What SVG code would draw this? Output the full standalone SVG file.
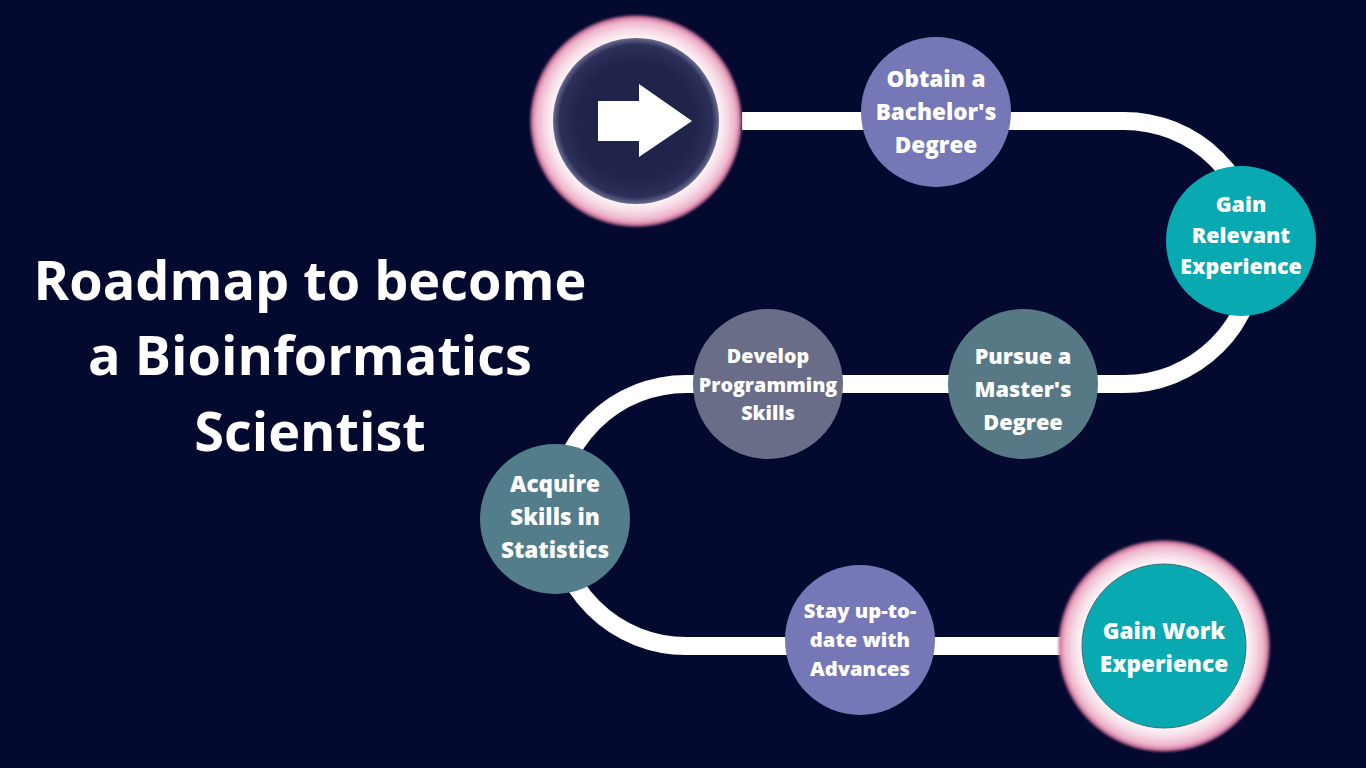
<svg xmlns="http://www.w3.org/2000/svg" width="1366" height="768" viewBox="0 0 1366 768">
<defs>
<radialGradient id="ring" cx="0.5" cy="0.5" r="0.5">
<stop offset="0.74" stop-color="#ffffff"/>
<stop offset="0.86" stop-color="#f7dbe6"/>
<stop offset="0.94" stop-color="#eeb3ca"/>
<stop offset="0.975" stop-color="#d57fa5"/>
<stop offset="1" stop-color="#b9628c" stop-opacity="0.6"/>
</radialGradient>
<radialGradient id="dark" cx="0.5" cy="0.5" r="0.5">
<stop offset="0.7" stop-color="#20234a"/>
<stop offset="0.92" stop-color="#2c2f58"/>
<stop offset="1" stop-color="#6a6c90"/>
</radialGradient>
<filter id="soft" x="-10%" y="-10%" width="120%" height="120%"><feGaussianBlur stdDeviation="1.2"/></filter>
<style>
.t{font-family:"Open Sans","Liberation Sans",sans-serif;font-weight:700;fill:#ffffff;text-anchor:middle}
.n{font-weight:800}
.title{font-size:54px}
</style>
</defs>
<rect width="1366" height="768" fill="#040a2f"/>
<g id="connectors">
<path d="M 742 121 H 1124 A 131.5 131.5 0 0 1 1124 384 H 686 A 131 131 0 0 0 686 646 H 1064" fill="none" stroke="#ffffff" stroke-width="18"/>
</g>
<g id="title">
<text class="t title" x="310" y="300">Roadmap to become</text>
<text class="t title" x="310" y="375">a Bioinformatics</text>
<text class="t title" x="310" y="451">Scientist</text>
</g>
<g id="start">
<circle cx="636" cy="121" r="106" fill="url(#ring)" filter="url(#soft)"/>
<circle cx="636" cy="121" r="83" fill="url(#dark)"/>
<polygon points="598,101 639,101 639,84 692,121 639,157 639,141 598,141" fill="#ffffff"/>
</g>
<g id="n1">
<circle cx="936" cy="112" r="75" fill="#7677b7"/>
<text class="t n" font-size="22.5" x="936" y="87">Obtain a</text>
<text class="t n" font-size="22.5" x="936" y="120">Bachelor's</text>
<text class="t n" font-size="22.5" x="936" y="153">Degree</text>
</g>
<g id="n2">
<circle cx="1241" cy="241" r="75" fill="#09a9b2"/>
<text class="t n" font-size="21.4" x="1241" y="212">Gain</text>
<text class="t n" font-size="21.4" x="1241" y="243">Relevant</text>
<text class="t n" font-size="21.4" x="1241" y="274">Experience</text>
</g>
<g id="n3">
<circle cx="1023" cy="384" r="75" fill="#567985"/>
<text class="t n" font-size="21.7" x="1023" y="364">Pursue a</text>
<text class="t n" font-size="21.7" x="1023" y="397">Master's</text>
<text class="t n" font-size="21.7" x="1023" y="430">Degree</text>
</g>
<g id="n4">
<circle cx="768" cy="384" r="75" fill="#6a6d87"/>
<text class="t n" font-size="19.7" x="768" y="363">Develop</text>
<text class="t n" font-size="19.7" x="768" y="392">Programming</text>
<text class="t n" font-size="19.7" x="768" y="420">Skills</text>
</g>
<g id="n5">
<circle cx="555" cy="519" r="75" fill="#537d8b"/>
<text class="t n" font-size="22.5" x="555" y="492">Acquire</text>
<text class="t n" font-size="22.5" x="555" y="525">Skills in</text>
<text class="t n" font-size="22.5" x="555" y="558">Statistics</text>
</g>
<g id="n6">
<circle cx="860" cy="640" r="75" fill="#7677b7"/>
<text class="t n" font-size="20.2" x="860" y="618">Stay up-to-</text>
<text class="t n" font-size="20.2" x="860" y="647">date with</text>
<text class="t n" font-size="20.2" x="860" y="676">Advances</text>
</g>
<g id="n7">
<circle cx="1164" cy="646" r="106" fill="url(#ring)" filter="url(#soft)"/>
<circle cx="1164" cy="646" r="82" fill="#09a9b2" stroke="#3a6f7a" stroke-width="1"/>
<text class="t n" font-size="22.6" x="1164" y="639">Gain Work</text>
<text class="t n" font-size="22.6" x="1164" y="672">Experience</text>
</g>
</svg>
